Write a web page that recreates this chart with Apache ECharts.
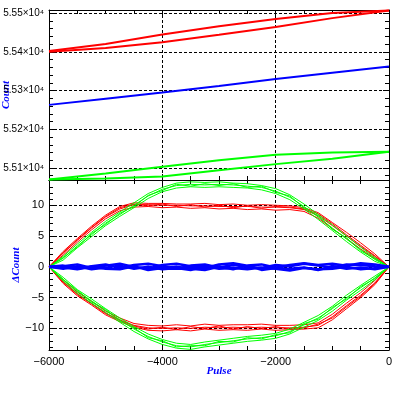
<!DOCTYPE html>
<html>
<head>
<meta charset="utf-8">
<script src="https://cdn.jsdelivr.net/npm/echarts@6/dist/echarts.min.js"></script>
<style>
html, body { margin: 0; padding: 0; background: #fff; }
#chart { width: 399px; height: 399px; }
</style>
</head>
<body>
<div id="chart"></div>
<script>
// top panel: raw counts vs pulse
var topPulse = [-6000, -5000, -4000, -3000, -2000, -1000, 0];
var redUp = [55402, 55420, 55445, 55466, 55485, 55500, 55507];
var redDown = [55400, 55410, 55425, 55444, 55464, 55487, 55507];
var blueCount = [55263, 55279, 55295, 55312, 55330, 55346, 55362];
var greenUp = [55070, 55086, 55103, 55120, 55134, 55140, 55142];
var greenDown = [55070, 55073, 55078, 55094, 55110, 55124, 55142];

// bottom panel: deviation loops, sampled every 250 pulses
var pulse = [-6000, -5750, -5500, -5250, -5000, -4750, -4500, -4250, -4000, -3750, -3500, -3250,
  -3000, -2750, -2500, -2250, -2000, -1750, -1500, -1250, -1000, -750, -500, -250, 0];

var redUpper = [
  [0, 2.2, 4.3, 6.3, 8.1, 9.4, 10.1, 10.1, 10.0, 10.0, 9.9, 9.9, 9.8, 9.8, 9.8, 9.7, 9.7, 9.6, 9.3, 8.3, 6.7, 5.0, 3.3, 1.7, 0],
  [0, 2.5, 4.6, 6.6, 8.4, 9.8, 10.4, 10.3, 10.3, 10.2, 10.2, 10.3, 10.1, 10.2, 10.0, 10.1, 10.0, 9.9, 9.6, 8.8, 7.2, 5.6, 3.9, 2.1, 0],
  [0, 1.9, 4.0, 6.0, 7.8, 9.1, 9.7, 9.8, 9.6, 9.7, 9.5, 9.6, 9.4, 9.5, 9.3, 9.4, 9.2, 9.3, 9.0, 7.9, 6.2, 4.6, 2.9, 1.4, 0],
  [0, 2.3, 4.4, 6.4, 8.2, 9.6, 10.2, 9.9, 10.2, 9.8, 10.1, 9.7, 10.0, 9.6, 9.9, 9.5, 9.8, 9.7, 9.4, 8.6, 7.0, 5.2, 3.5, 1.8, 0]
];
var redLower = [
  [0, -2.4, -4.4, -5.9, -7.5, -8.6, -9.5, -9.9, -10.0, -9.9, -10.0, -9.8, -9.9, -9.8, -9.9, -9.8, -9.9, -9.9, -9.8, -9.5, -8.1, -6.3, -4.6, -2.6, 0],
  [0, -2.7, -4.7, -6.2, -7.8, -8.9, -9.8, -10.3, -10.4, -10.2, -10.4, -10.1, -10.3, -10.2, -10.3, -10.1, -10.3, -10.2, -10.1, -9.9, -8.6, -6.8, -5.0, -2.9, 0],
  [0, -2.1, -4.1, -5.6, -7.2, -8.3, -9.2, -9.5, -9.6, -9.4, -9.6, -9.3, -9.5, -9.4, -9.4, -9.3, -9.5, -9.5, -9.4, -9.1, -7.7, -5.9, -4.2, -2.2, 0],
  [0, -2.5, -4.5, -6.0, -7.6, -8.7, -9.6, -10.1, -9.8, -10.2, -9.7, -10.0, -9.6, -10.1, -9.7, -10.0, -9.7, -10.1, -9.9, -9.3, -8.3, -6.5, -4.8, -2.7, 0]
];
var greenUpper = [
  [0, 1.4, 3.4, 5.2, 7.1, 8.5, 10.0, 11.5, 12.6, 13.2, 13.4, 13.3, 13.4, 13.3, 13.1, 12.9, 12.3, 11.3, 9.8, 8.1, 6.3, 4.5, 2.8, 1.2, 0],
  [0, 1.7, 3.7, 5.6, 7.4, 8.9, 10.4, 11.9, 12.9, 13.6, 13.8, 13.7, 13.8, 13.6, 13.5, 13.2, 12.7, 11.7, 10.2, 8.5, 6.8, 5.0, 3.2, 1.5, 0],
  [0, 1.1, 3.1, 4.9, 6.7, 8.2, 9.6, 11.1, 12.2, 12.8, 13.0, 12.9, 13.0, 12.9, 12.8, 12.5, 11.9, 10.9, 9.4, 7.7, 5.9, 4.1, 2.4, 0.9, 0],
  [0, 1.5, 3.2, 5.4, 6.9, 8.7, 9.8, 11.6, 12.4, 13.4, 13.1, 13.5, 13.2, 13.5, 12.9, 13.1, 12.1, 11.5, 9.6, 8.3, 6.1, 4.7, 2.6, 1.3, 0]
];
var greenLower = [
  [0, -2.0, -4.0, -5.5, -7.1, -8.6, -10.1, -11.3, -12.2, -12.8, -13.0, -12.6, -12.3, -12.0, -11.7, -11.5, -11.2, -10.5, -9.4, -8.3, -6.8, -5.0, -3.4, -1.8, 0],
  [0, -2.3, -4.3, -5.9, -7.4, -9.0, -10.5, -11.7, -12.6, -13.2, -13.4, -13.0, -12.7, -12.4, -12.1, -11.9, -11.6, -10.9, -9.8, -8.7, -7.2, -5.4, -3.8, -2.1, 0],
  [0, -1.7, -3.7, -5.2, -6.8, -8.3, -9.7, -10.9, -11.8, -12.4, -12.6, -12.2, -11.9, -11.6, -11.3, -11.1, -10.8, -10.1, -9.0, -7.9, -6.4, -4.6, -3.0, -1.5, 0],
  [0, -2.1, -3.8, -5.7, -6.9, -8.8, -9.9, -11.5, -12.0, -13.0, -12.8, -12.8, -12.1, -12.2, -11.5, -11.7, -11.0, -10.7, -9.2, -8.5, -6.6, -5.2, -3.2, -1.9, 0]
];
var blueUpper = [
  [0, 0.2, -0.3, 0.1, 0.4, -0.2, 0.3, 0.5, 0.1, -0.3, 0.2, 0.4, -0.1, 0.3, 0.0, -0.2, 0.3, 0.1, 0.5, 0.2, -0.1, 0.4, 0.3, 0.1, 0],
  [0, 0.1, 0.4, -0.2, 0.2, 0.5, 0.0, -0.3, 0.3, 0.5, 0.1, -0.2, 0.4, 0.6, 0.2, 0.4, -0.1, 0.3, 0.6, 0.3, 0.5, 0.2, 0.6, 0.4, 0]
];
var blueLower = [
  [0, -0.3, 0.1, -0.4, -0.1, 0.2, -0.3, 0.0, -0.4, -0.2, -0.5, 0.1, -0.3, -0.2, -0.4, -0.1, -0.3, -0.6, -0.2, -0.4, -0.3, 0.0, -0.4, -0.2, 0],
  [0, -0.1, -0.4, 0.0, -0.3, -0.4, 0.1, -0.5, -0.2, 0.0, -0.3, -0.5, 0.0, -0.4, 0.2, -0.5, -0.2, -0.3, -0.1, -0.5, 0.1, -0.3, -0.1, -0.4, 0]
];

var chart = echarts.init(document.getElementById('chart'));

var labelFont = { color: '#000', fontFamily: 'Liberation Sans', fontSize: 11 };
var nameFont = { color: '#0000ff', fontFamily: 'Liberation Serif', fontStyle: 'italic', fontWeight: 'bold', fontSize: 11 };
var dashed = { show: true, lineStyle: { color: '#000', type: [3, 2], width: 1 } };
var axisLine = { show: true, onZero: false, lineStyle: { color: '#000', width: 1 } };

function minus(v) {
  return String(v).replace('-', '\u2212');
}

function xAx(grid, pos, labels, grid_lines) {
  return {
    type: 'value', gridIndex: grid, position: pos, min: -6000, max: 0, interval: 2000,
    axisLine: axisLine,
    axisTick: { show: true, inside: true, length: 6, lineStyle: { color: '#000' } },
    minorTick: { show: true, splitNumber: 4, length: 4, lineStyle: { color: '#000' } },
    splitLine: grid_lines ? dashed : { show: false },
    axisLabel: labels ? Object.assign({ show: true, margin: 6, formatter: minus }, labelFont) : { show: false }
  };
}

function yAx(grid, pos, min, max, labels, grid_lines, fmt) {
  return {
    type: 'value', gridIndex: grid, position: pos, min: min, max: max, splitNumber: 5,
    axisLine: axisLine,
    axisTick: { show: true, inside: true, length: 6, lineStyle: { color: '#000' } },
    minorTick: { show: true, splitNumber: 5, length: 4, lineStyle: { color: '#000' } },
    splitLine: grid_lines ? dashed : { show: false },
    axisLabel: labels ? Object.assign({ show: true, margin: 5, showMinLabel: false, showMaxLabel: false, formatter: fmt }, labelFont) : { show: false }
  };
}

function pts(xs, ys) {
  return ys.map(function (v, i) { return [xs[i], v]; });
}

function loop(up, low) {
  return pts(pulse, up).concat(pts(pulse, low).reverse());
}

var series = [];
function topLine(ys, color) {
  series.push({
    type: 'line', xAxisIndex: 0, yAxisIndex: 0, data: pts(topPulse, ys),
    showSymbol: false, lineStyle: { color: color, width: 2 }, silent: true
  });
}
topLine(redUp, '#ff0000');
topLine(redDown, '#ff0000');
topLine(blueCount, '#0000ff');
topLine(greenUp, '#00ff00');
topLine(greenDown, '#00ff00');

function loops(uppers, lowers, color, width) {
  uppers.forEach(function (u, k) {
    series.push({
      type: 'line', xAxisIndex: 2, yAxisIndex: 2, data: loop(u, lowers[k]),
      showSymbol: false, lineStyle: { color: color, width: width }, silent: true
    });
  });
}
loops(redUpper, redLower, '#ff0000', 1);
loops(greenUpper, greenLower, '#00ff00', 1);
loops(blueUpper, blueLower, '#0000ff', 2.5);

var topY = yAx(0, 'left', 55069, 55508, true, true, function (v) {
  return (v / 10000).toFixed(2) + '\u00d710\u2074';
});
topY.axisLabel.fontSize = 10;
topY.name = 'Count';
topY.nameLocation = 'middle';
topY.nameGap = 37;
topY.nameMoveOverlap = false;
topY.nameTextStyle = nameFont;

var botY = yAx(1, 'left', -13.5, 14.1, true, true, minus);
botY.name = '\u0394Count';
botY.nameLocation = 'middle';
botY.nameGap = 27;
botY.nameMoveOverlap = false;
botY.nameTextStyle = nameFont;

var botX = xAx(1, 'bottom', true, true);
botX.name = 'Pulse';
botX.nameLocation = 'middle';
botX.nameGap = 16;
botX.nameMoveOverlap = false;
botX.nameTextStyle = nameFont;

chart.setOption({
  animation: false,
  backgroundColor: '#fff',
  grid: [
    { left: 49, right: 10, top: 10, height: 170, outerBoundsMode: 'none', containLabel: false },
    { left: 49, right: 10, top: 180, height: 170, outerBoundsMode: 'none', containLabel: false }
  ],
  xAxis: [
    xAx(0, 'bottom', false, true),
    xAx(0, 'top', false, false),
    botX,
    xAx(1, 'top', false, false)
  ],
  yAxis: [
    topY,
    yAx(0, 'right', 55069, 55508, false, false),
    botY,
    yAx(1, 'right', -13.5, 14.1, false, false)
  ],
  series: series
});
</script>
</body>
</html>
